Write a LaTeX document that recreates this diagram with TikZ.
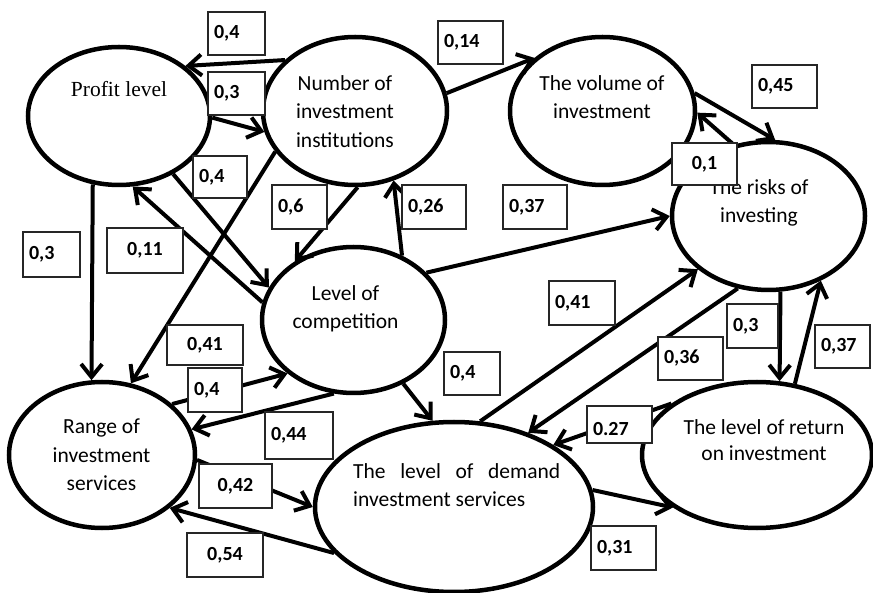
\documentclass[tikz,border=0pt]{standalone}
\usepackage{fontspec}
\setmainfont{Carlito}
\newfontfamily\timesfont{Liberation Serif}
\usetikzlibrary{arrows.meta, shapes.geometric}

\tikzset{
  oval/.style = {ellipse, draw, line width = 4.5pt, inner sep = 0pt},
  otext/.style = {anchor = north, inner sep = 0pt, align = center,
    font = \fontsize{21.5}{28.5}\selectfont},
  arr/.style = {line width = 4pt, -{Straight Barb[length = 13pt, width = 21pt]}},
  wt/.style = {draw = black!85, line width = 1.8pt, fill = white,
    inner xsep = 6pt, inner ysep = 0pt, minimum height = 43pt, align = left,
    font = \fontsize{20}{24}\bfseries\selectfont}
}

\begin{document}
\begin{tikzpicture}[x = 1pt, y = -1pt]
    \useasboundingbox (0, 0) rectangle (873, 593);

    % the factors
    \node [oval, minimum width = 182pt, minimum height = 138pt] (prof) at (119, 116) {};
    \node [oval, minimum width = 184pt, minimum height = 148pt] (inst) at (355, 111) {};
    \node [oval, minimum width = 185pt, minimum height = 148pt] (vol) at (602.5, 111) {};
    \node [oval, minimum width = 193pt, minimum height = 148pt] (risk) at (768.5, 216) {};
    \node [oval, minimum width = 183pt, minimum height = 146pt] (comp) at (353.5, 320) {};
    \node [oval, minimum width = 186pt, minimum height = 146pt] (serv) at (102, 455) {};
    \node [oval, minimum width = 278pt, minimum height = 170pt] (dem) at (454, 507) {};
    \node [oval, minimum width = 230pt, minimum height = 146pt] (ret) at (757, 455) {};

    \node [otext, font = \timesfont\fontsize{21.5}{26}\selectfont] (prof-t) at (119, 81) {Profit level};
    \node [otext] (inst-t) at (345, 75) {Number of\\investment\\institutions};
    \node [otext] (vol-t) at (602, 75) {The volume of\\investment};
    \node [otext] (risk-t) at (759, 179) {The risks of\\investing};
    \node [otext] (comp-t) at (345.5, 285) {Level of\\competition};
    \node [otext] (serv-t) at (101.5, 419) {Range of\\investment\\services};
    \node [otext, align = left, anchor = north west] (dem-t) at (353, 463)
      {\makebox[207pt][s]{The level of demand}\\investment services};
    \node [otext, font = \fontsize{21.5}{26}\selectfont] (ret-t) at (764, 419) {The level of return\\on investment};

    % influences
    \draw [arr] (inst.144) -- (prof.37);
    \draw [arr] (prof.-1) -- (inst.193);
    \draw [arr] (inst.11) -- (vol.142);
    \draw [arr] (vol.11) -- (risk.85);
    \draw [arr] (risk.116) -- (vol.-1);
    \draw [arr] (prof.-47) -- (comp.159);
    \draw [arr] (inst.207) -- (serv.68);
    \draw [arr] (comp.169) -- (prof.-79);
    \draw [arr] (prof.249) -- (serv.98);
    \draw [arr] (inst.-88) -- (comp.135);
    \draw [arr] (comp.53) -- (inst.-61);
    \draw [arr] (comp.33) -- (risk.180);
    \draw [arr] (dem.73) -- (risk.217);
    \draw [arr] (risk.247) -- (dem.45);
    \draw [arr] (risk.-81) -- (ret.73);
    \draw [arr] (ret.62) -- (risk.-51);
    \draw [arr] (ret.149) -- (dem.32);
    \draw [arr] (comp.-52) -- (dem.104);
    \draw [arr] (serv.36) -- (comp.219);
    \draw [arr] (comp.-105) -- (serv.16);
    \draw [arr] (serv.-3) -- (dem.180);
    \draw [arr] (dem.201) -- (serv.-38);
    \draw [arr] (dem.7) -- (ret.212);

    % weights
    \node [wt, text width = 45pt] (w-ip) at (236.5, 33.5) {0,4};
    \node [wt, text width = 45pt] (w-pi) at (236.5, 93.5) {0,3};
    \node [wt, text width = 53pt] (w-iv) at (470.5, 42.5) {0,14};
    \node [wt, text width = 53pt] (w-vr) at (784.5, 86.5) {0,45};
    \node [wt, text width = 53pt, minimum height = 42pt, align = center] (w-rv) at (704.5, 164) {0,1};
    \node [wt, text width = 42pt, minimum height = 42pt] (w-pc) at (220, 177) {0,4};
    \node [wt, text width = 64pt, minimum height = 40pt, align = center] (w-is) at (205, 345) {0,41};
    \node [wt, text width = 64pt, minimum height = 45pt, align = center] (w-cp) at (145, 250.5) {0,11};
    \node [wt, text width = 45pt, minimum height = 45pt] (w-ps) at (51.5, 254.5) {0,3};
    \node [wt, text width = 43pt, minimum height = 44pt] (w-ic) at (299.5, 207) {0,6};
    \node [wt, text width = 52pt, minimum height = 44pt] (w-ci) at (434, 207) {0,26};
    \node [wt, text width = 52pt, minimum height = 44pt] (w-cr) at (535, 207) {0,37};
    \node [wt, text width = 54pt, minimum height = 44pt] (w-dr) at (582, 303) {0,41};
    \node [wt, text width = 53pt] (w-rd) at (690.5, 358.5) {0,36};
    \node [wt, text width = 39pt, minimum height = 44pt] (w-rr) at (752.5, 326) {0,3};
    \node [wt, text width = 43pt] (w-tr) at (842.5, 346.5) {0,37};
    \node [wt, text width = 53pt, minimum height = 37pt, text height = 22pt] (w-td) at (619.5, 424.5) {0.27};
    \node [wt, text width = 44pt] (w-cd) at (472, 373.5) {0,4};
    \node [wt, text width = 42pt, minimum height = 44pt] (w-sc) at (215, 390) {0,4};
    \node [wt, text width = 56pt, minimum height = 47pt] (w-cs) at (299, 435.5) {0,44};
    \node [wt, text width = 61pt, minimum height = 44pt, align = center] (w-sd) at (235.5, 486) {0,42};
    \node [wt, text width = 64pt, minimum height = 44pt, align = center] (w-ds) at (225, 555) {0,54};
    \node [wt, text width = 53pt, minimum height = 44pt] (w-dt) at (623.5, 548) {0,31};
\end{tikzpicture}
\end{document}
